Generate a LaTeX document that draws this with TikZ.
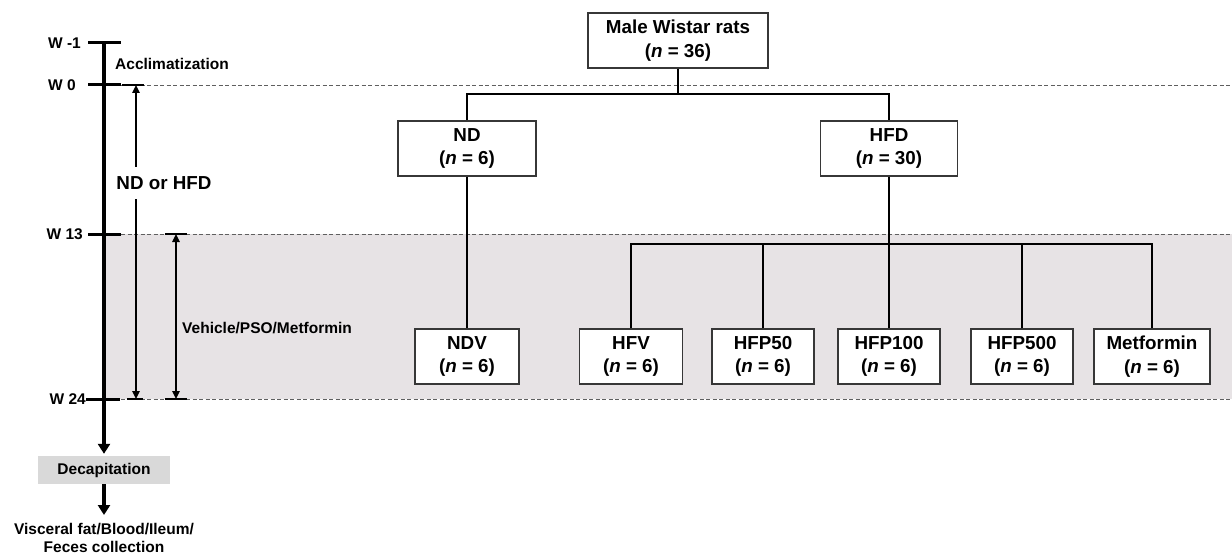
\documentclass[tikz,border=0pt]{standalone}
\usepackage{fontspec}
\setmainfont{Liberation Sans}
\usetikzlibrary{arrows.meta}
\definecolor{band}{RGB}{231,227,229}
\definecolor{dashgray}{RGB}{95,95,95}
\definecolor{decapgray}{RGB}{217,217,217}
\definecolor{boxgray}{RGB}{55,55,55}
\begin{document}
\begin{tikzpicture}[x=1pt,y=-1pt,
  grp/.style={draw=boxgray,line width=1.2pt,fill=white,minimum height=55pt,inner sep=0pt,align=center,font=\bfseries\fontsize{18.8}{23.5}\selectfont},
  conn/.style={line width=1.5pt},
  lbl/.style={font=\bfseries\fontsize{15.5}{18}\selectfont,inner sep=0pt},
  dline/.style={dashgray,line width=0.9pt,dash pattern=on 4pt off 2.5pt},
  tickmark/.style={line width=3pt},
  spanarrow/.style={line width=1.3pt,{Triangle[width=7.5pt,length=8pt]}-{Triangle[width=7.5pt,length=8pt]}},
  capline/.style={line width=1.5pt},
  bigarrow/.style={line width=3.5pt,-{Triangle[width=12pt,length=10pt]}}]
\useasboundingbox (0,0) rectangle (1232,559);
% background band and dashed guide lines
\fill[band] (105,234) rectangle (1232,399);
\draw[dline] (121,85) -- (1232,85);
\draw[dline] (121,234) -- (1232,234);
\draw[dline] (121,399) -- (1232,399);
% timeline
\coordinate (ttop) at (104,41.5);
\node[lbl,fill=decapgray,minimum width=132pt,minimum height=28pt] (decap) at (104,470) {Decapitation};
\node[lbl,align=center,anchor=north] (coll) at (104,523) {Visceral fat/Blood/Ileum/\\Feces collection};
\draw[bigarrow,shorten >=2pt] (ttop) -- (decap.north);
\draw[bigarrow,shorten >=8pt] (decap.south) -- (coll.north);
\draw[tickmark] (88,43) -- (121,43);
\draw[tickmark] (88,85) -- (121,85);
\draw[tickmark] (88,234) -- (121,234);
\draw[tickmark] (86,399) -- (120,399);
\node[lbl,anchor=east] (wm1) at (81,43) {W -1};
\node[lbl,anchor=east] (w0) at (76,85) {W 0};
\node[lbl,anchor=east] (w13) at (83,234) {W 13};
\node[lbl,anchor=east] (w24) at (86,399) {W 24};
\node[lbl,anchor=west] (accl) at (115,64) {Acclimatization};
% period spans
\coordinate (s1a) at (136,85);
\coordinate (s1b) at (136,399);
\draw[spanarrow] (s1a) -- (s1b);
\draw[capline] (122,85) -- (144,85);
\draw[capline] (127,399) -- (143,399);
\node[font=\bfseries\fontsize{18.8}{23.5}\selectfont,fill=white,inner xsep=2pt,inner ysep=9pt] (ndhfd) at (164,183) {ND or HFD};
\coordinate (s2a) at (176,234);
\coordinate (s2b) at (176,399);
\draw[spanarrow] (s2a) -- (s2b);
\draw[capline] (165,234) -- (187,234);
\draw[capline] (165,399) -- (187,399);
\node[lbl,anchor=west] (veh) at (182,328) {Vehicle/PSO/Metformin};
% tree
\node[grp,minimum width=180pt] (male) at (678,40.5) {Male Wistar rats\\(\textit{n} = 36)};
\node[grp,minimum width=138pt] (nd) at (467,148.5) {ND\\(\textit{n} = 6)};
\node[grp,minimum width=137pt] (hfd) at (889,148.5) {HFD\\(\textit{n} = 30)};
\node[grp,minimum width=104pt] (ndv) at (467,356.5) {NDV\\(\textit{n} = 6)};
\node[grp,minimum width=103pt] (hfv) at (631,356.5) {HFV\\(\textit{n} = 6)};
\node[grp,minimum width=102pt] (hfp50) at (763,356.5) {HFP50\\(\textit{n} = 6)};
\node[grp,minimum width=102pt] (hfp100) at (889,356.5) {HFP100\\(\textit{n} = 6)};
\node[grp,minimum width=102pt] (hfp500) at (1022,356.5) {HFP500\\(\textit{n} = 6)};
\node[grp,minimum width=116pt] (met) at (1152,356.5) {Metformin\\(\textit{n} = 6)};
\coordinate (tbus) at (0,94);
\coordinate (bbus) at (0,244);
\draw[conn] (male.south) -- (male.south |- tbus);
\draw[conn] (nd.north) |- (tbus -| hfd.north) -- (hfd.north);
\draw[conn] (nd.south) -- (ndv.north);
\draw[conn] (hfd.south) -- (hfp100.north);
\draw[conn] (hfv.north) |- (bbus -| met.north) -- (met.north);
\draw[conn] (hfp50.north) -- (hfp50.north |- bbus);
\draw[conn] (hfp500.north) -- (hfp500.north |- bbus);
\end{tikzpicture}
\end{document}
